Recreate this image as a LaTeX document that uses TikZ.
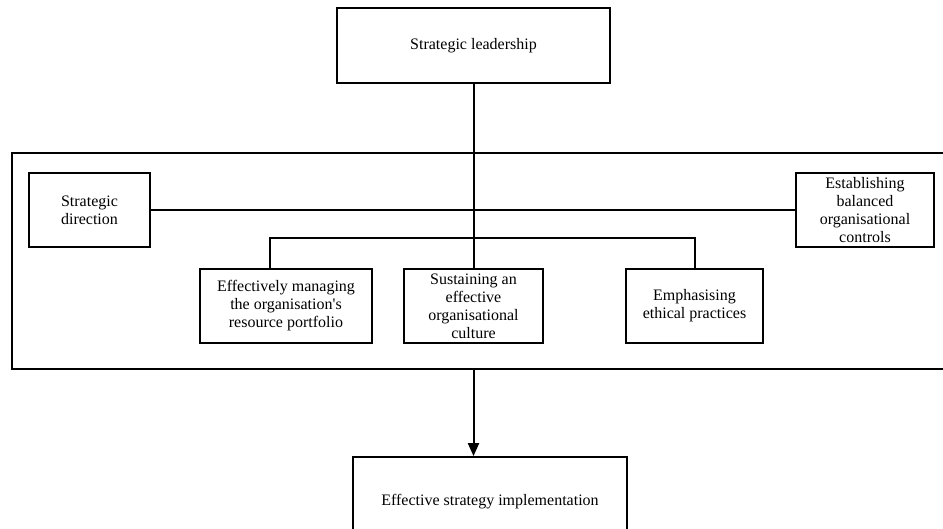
\documentclass[tikz,border=0pt]{standalone}
\usepackage{fontspec}
\setmainfont{Liberation Serif}
\usetikzlibrary{arrows.meta,positioning}

\begin{document}
\begin{tikzpicture}[x=1pt,y=-1pt,
  blk/.style={draw,line width=1.8pt,align=center,inner sep=2pt,font=\fontsize{16}{18}\selectfont},
  link/.style={line width=2pt}]
\clip (0,0) rectangle (943,529);
 \node[blk,minimum width=273pt,minimum height=75pt] (lead) at (473.5,45.5) {Strategic leadership};
 \node[draw,line width=1.8pt,anchor=north west,minimum width=960pt,minimum height=216pt,inner sep=0pt] (frame) at (11,152) {};
 \node[blk,minimum width=121pt,minimum height=74pt] (dir) at (89.5,210) {Strategic\\direction};
 \node[blk,minimum width=138pt,minimum height=74pt] (ctrl) at (865,210) {Establishing\\balanced\\organisational\\controls};
 \node[blk,minimum width=172pt,minimum height=74pt] (res) at (286,306) {Effectively managing\\the organisation\textquotesingle s\\resource portfolio};
 \node[blk,minimum width=139pt,minimum height=74pt] (cult) at (473.5,306) {Sustaining an\\effective\\organisational\\culture};
 \node[blk,minimum width=137pt,minimum height=74pt] (eth) at (694.5,306) {Emphasising\\ethical practices};
 \node[blk,minimum width=274pt,minimum height=90pt] (impl) at (490,502) {Effective strategy implementation};
 \coordinate (bus) at (473.5,238);
 \draw[link] (lead.south)--(cult.north);
 \draw[link] (dir.east)--(ctrl.west);
 \draw[link] ([xshift=-16pt]res.north) |- (bus) -| (eth.north);
 \draw[link,-{Triangle[length=13pt,width=11pt]}] (lead |- frame.south)--(lead |- impl.north);
\end{tikzpicture}
\end{document}
